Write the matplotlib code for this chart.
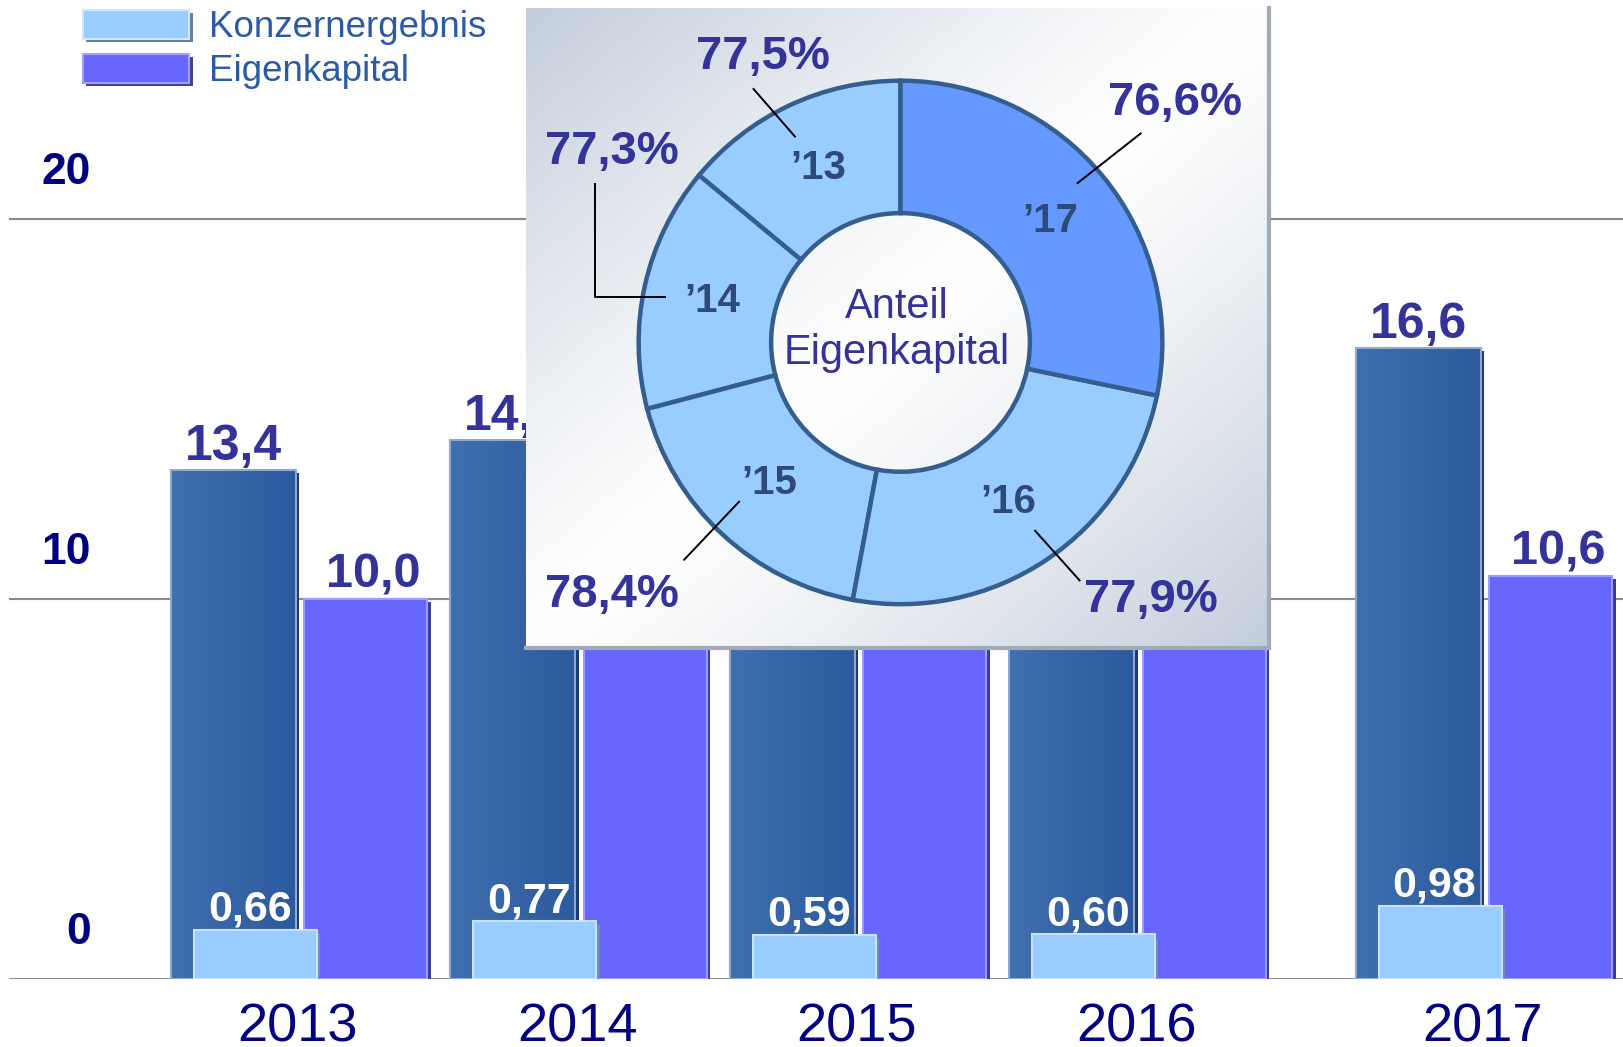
import matplotlib
matplotlib.use('Agg')
import matplotlib.pyplot as plt
import numpy as np
from matplotlib.patches import Rectangle
from matplotlib.colors import LinearSegmentedColormap

plt.rcParams['font.family'] = ['Liberation Sans', 'DejaVu Sans']

# ---------------- data ----------------
years = ['2013', '2014', '2015', '2016', '2017']
bilanzsumme = [13.4, 14.2, 15.3, 15.9, 16.6]      # dark bars (2014-2016 tops hidden by inset, estimated)
eigenkapital = [10.0, 10.9, 11.7, 12.2, 10.6]     # purple bars (2014-2016 hidden, estimated)
konzernergebnis = [0.66, 0.77, 0.59, 0.60, 0.98]  # light bars
yticks = [0, 10, 20]
pie_years = ["’13", "’14", "’15", "’16", "’17"]
pie_sizes = [50.3, 54.4, 64.8, 88.8, 101.7]
pie_pct = ['77,5%', '77,3%', '78,4%', '77,9%', '76,6%']

def de(v, nd):
    return f"{v:.{nd}f}".replace('.', ',')

# ---------------- layout (reference coords 1568x1012) ----------------
RW, RH = 1568, 1012
fig = plt.figure(figsize=(16.23, 10.47), dpi=100)
fig.patch.set_facecolor('white')

xpos = np.array([0, 1, 2, 3, 4.24])
ax = fig.add_axes([0, 66 / RH, 1, 946 / RH])
for s in ax.spines.values():
    s.set_visible(False)
ax.set_xticks([]); ax.set_yticks([])
ax.set_facecolor('none')

DARK = '#3464A6'; PURPLE = '#6666FF'; LIGHT = '#99CCFF'
NAVY = '#000080'; LABC = '#333399'

# grid lines
for t in yticks:
    ax.axhline(t, xmin=10 / RW, xmax=1, color='#8a8a8a' if t else '#808080',
               lw=1.5 if t else 2.0, zorder=0.5)

wd = 0.448; wp = 0.44; wl = 0.44
# dark bars
ax.bar(xpos + 0.012, bilanzsumme, wd, bottom=-0.08, color='#1B3A6B', zorder=1.9, lw=0)
dbars = ax.bar(xpos, bilanzsumme, wd, color=DARK, zorder=2, lw=0)
cmap = LinearSegmentedColormap.from_list('d', ['#406FAF', '#2C5A9E'])
for r in dbars:
    x0, y0, w, h = r.get_x(), r.get_y(), r.get_width(), r.get_height()
    im = ax.imshow(np.linspace(0, 1, 64)[None, :], extent=(x0, x0 + w, y0, y0 + h),
                   cmap=cmap, aspect='auto', zorder=2.05, origin='lower')
    im.set_clip_path(r)
ax.bar(xpos, bilanzsumme, wd, fill=False, edgecolor='#8EA8CE', lw=1.5, zorder=2.1)
# purple bars
ax.bar(xpos + 0.474 + 0.012, eigenkapital, wp, bottom=-0.08, color='#3B3B9E', zorder=1.9, lw=0)
ax.bar(xpos + 0.474, eigenkapital, wp, color=PURPLE, edgecolor='#9C9CFF', lw=1.5, zorder=2)

for x, v in zip(xpos, bilanzsumme):
    ax.annotate(de(v, 1), (x, v), xytext=(0, 0), textcoords='offset points',
                ha='center', va='bottom', fontsize=36, fontweight='bold', color=LABC, zorder=5)
for x, v in zip(xpos + 0.474, eigenkapital):
    ax.annotate(de(v, 1), (x, v), xytext=(5, 1), textcoords='offset points',
                ha='center', va='bottom', fontsize=35, fontweight='bold', color=LABC, zorder=5)

for x, y in zip(xpos + 0.23, years):
    ax.annotate(y, (x, 0), xytext=(0, -35), textcoords='offset points', ha='center',
                va='center', fontsize=39, color=NAVY, annotation_clip=False)
for t in yticks:
    ax.annotate(str(t), (88 / RW, t), xycoords=('axes fraction', 'data'), xytext=(0, 33.5),
                textcoords='offset points', ha='right', va='center', fontsize=32,
                fontweight='bold', color=NAVY, annotation_clip=False)

ax.set_xlim(-225.5 / 270, (RW - 225.5) / 270)
ax.set_ylim(0, 946 / 36.7)

# light bars on twin axis
ax2 = ax.twinx()
ax2.axis('off')
ax2.bar(xpos + 0.078 + 0.012, konzernergebnis, wl, bottom=-0.05, color='#6F8DB0', zorder=1.9, lw=0)
ax2.bar(xpos + 0.078, konzernergebnis, wl, color=LIGHT, edgecolor='#C8E3FF', lw=1.5, zorder=2)
for x, v in zip(xpos + 0.078, konzernergebnis):
    ax2.annotate(de(v, 2), (x, v), xytext=(-4, 0), textcoords='offset points',
                 ha='center', va='bottom', fontsize=31, fontweight='bold', color='white', zorder=5)
ax2.set_ylim(0, 946 / 72)
ax2.set_xlim(ax.get_xlim())

# ---------------- legend ----------------
def fig_rect(x0, y0, x1, y1, **kw):
    fig.patches.append(Rectangle((x0 / RW, 1 - y1 / RH), (x1 - x0) / RW, (y1 - y0) / RH,
                                 transform=fig.transFigure, figure=fig, **kw))

for (y0, col, sh, ed, lab) in [(10, LIGHT, '#5F7FA5', '#CCE6FF', 'Konzernergebnis'),
                                (52, PURPLE, '#40409A', '#A0A0FF', 'Eigenkapital')]:
    fig_rect(83, y0 + 3, 186, y0 + 31, color=sh, lw=0)
    fig_rect(80, y0, 183, y0 + 28, facecolor=col, edgecolor=ed, lw=1.5)
    fig.text(202 / RW, 1 - (y0 + 17) / RH, lab, ha='left', va='center', fontsize=26.5,
             color='#2B5BA6')

# ---------------- inset donut ----------------
L, R_, T, B = 508, 1226, 8, 626
axi = fig.add_axes([L / RW, 1 - B / RH, (R_ - L) / RW, (B - T) / RH])
Ylo, Yhi = RH - B, RH - T
uu, vv = np.meshgrid(np.linspace(0, 1, 300), np.linspace(0, 1, 260))
tt = np.clip(np.abs(uu + vv - 1), 0, 1) ** 1.2
c0 = np.array([1.0, 1.0, 1.0]); c1 = np.array([0xC3, 0xCD, 0xDB]) / 255
img = c0[None, None, :] * (1 - tt[..., None]) + c1[None, None, :] * tt[..., None]
axi.imshow(img, extent=(L, R_, Ylo, Yhi), origin='upper', aspect='auto', zorder=0)

cx, cy, rad, rin = 870, RH - 331, 253, 125
wedges, _ = axi.pie(pie_sizes, colors=[LIGHT] * 4 + ['#6699FF'], startangle=90,
                    counterclock=True, center=(cx, cy), radius=rad, frame=True,
                    wedgeprops=dict(width=rad - rin, edgecolor='#335E8E', linewidth=3.2))
for w, lab in zip(wedges, pie_years):
    m = np.deg2rad((w.theta1 + w.theta2) / 2)
    axi.text(cx + 186 * np.cos(m), cy + 186 * np.sin(m), lab, ha='center', va='center',
             fontsize=29, fontweight='bold', color='#2E4A7A')

axi.text(866, RH - 319, 'Anteil\nEigenkapital', ha='center', va='center', fontsize=30,
         color=LABC, linespacing=1.2)

pct_pos = [(737, 55), (591, 147), (591, 575), (1112, 580), (1135, 100)]
leaders = [[(728, 86), (768, 132)],
           [(575, 178), (575, 287), (642, 287)],
           [(661, 541), (714, 485)],
           [(1000, 513), (1043, 561)],
           [(1102, 129), (1041, 177)]]
for lab, (px, py), ln in zip(pie_pct, pct_pos, leaders):
    axi.text(px, RH - py, lab, ha='center', va='center', fontsize=34,
             fontweight='bold', color=LABC)
    xs = [p[0] for p in ln]; ys = [RH - p[1] for p in ln]
    axi.plot(xs, ys, color='black', lw=1.4, zorder=4)

axi.set_xlim(L, R_); axi.set_ylim(Ylo, Yhi)
axi.set_aspect('auto')
axi.set_xticks([]); axi.set_yticks([])
axi.spines['left'].set_visible(False)
axi.spines['top'].set_visible(False)
for s in ('right', 'bottom'):
    axi.spines[s].set_color('#A2AAB6'); axi.spines[s].set_linewidth(3)

fig.savefig('out.png', dpi=100, facecolor='white')
